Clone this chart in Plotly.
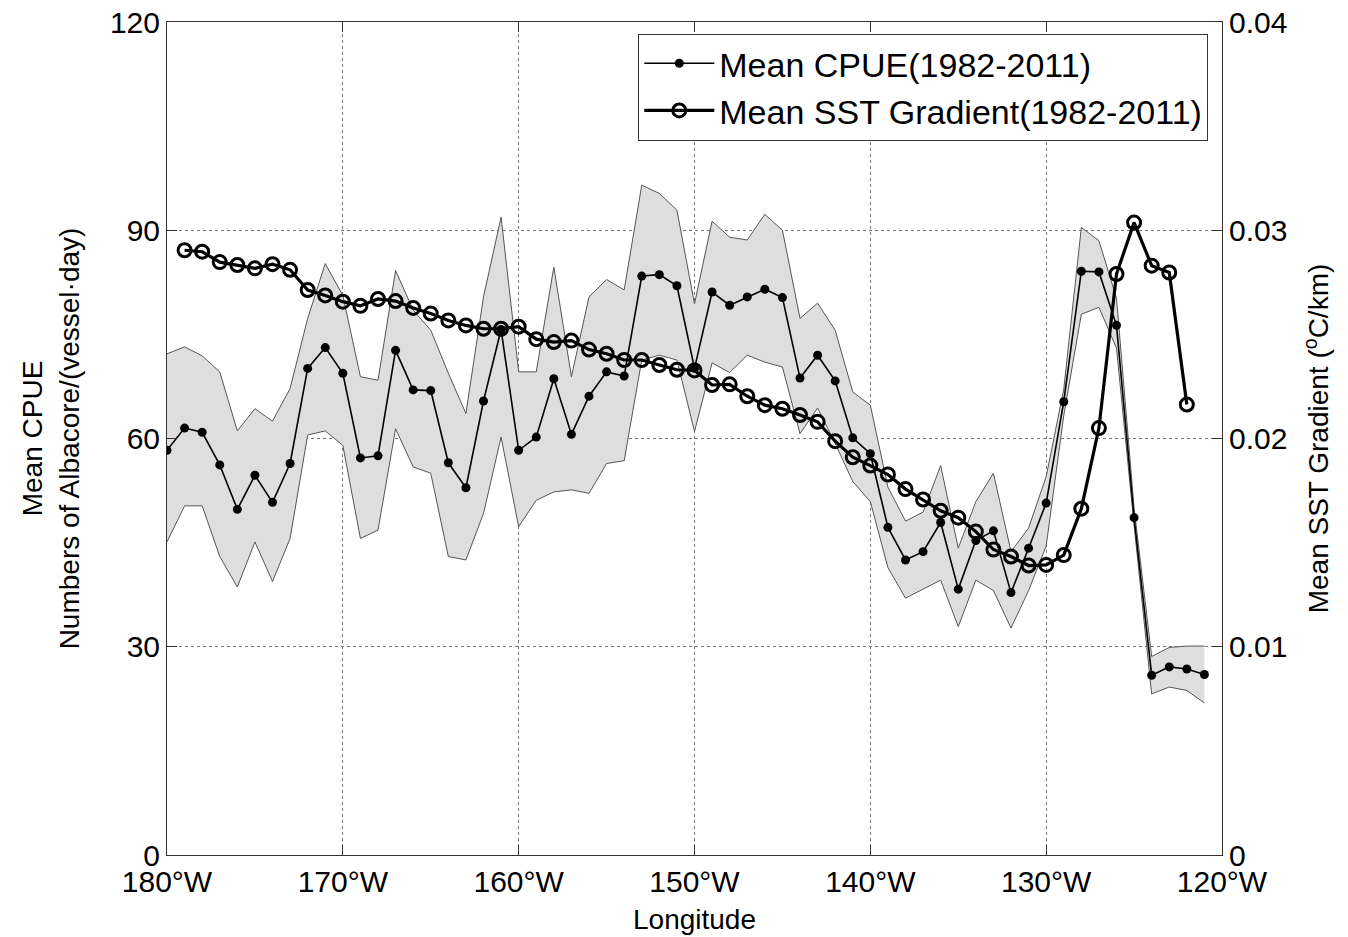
import plotly.graph_objects as go

# ---------------- data ----------------
lon_cpue = list(range(-180, -120))  # -180 ... -121
cpue = [58.3, 61.5, 60.9, 56.2, 49.8, 54.7, 50.8, 56.4, 70.1, 73.1,
        69.4, 57.2, 57.5, 72.7, 67.0, 66.9, 56.5, 52.9, 65.4, 75.7,
        58.3, 60.2, 68.6, 60.6, 66.1, 69.6, 69.0, 83.4, 83.6, 82.0,
        70.1, 81.1, 79.2, 80.4, 81.5, 80.3, 68.7, 72.0, 68.3, 60.1,
        57.8, 47.2, 42.5, 43.7, 47.9, 38.3, 45.3, 46.7, 37.8, 44.2,
        50.7, 65.3, 84.1, 84.0, 76.3, 48.6, 25.9, 27.1, 26.8, 26.0]
cpue_upper = [72.2, 73.2, 71.9, 69.6, 61.1, 64.3, 62.5, 67.2, 77.3, 85.2,
              80.6, 68.9, 68.4, 84.2, 78.5, 75.6, 69.4, 63.6, 80.4, 91.9,
              69.6, 69.6, 84.7, 68.9, 80.4, 82.9, 81.4, 96.5, 95.3, 92.9,
              79.4, 91.3, 89.0, 88.6, 92.3, 90.0, 77.3, 79.5, 75.6, 66.7,
              64.8, 53.0, 48.1, 49.4, 56.1, 44.2, 50.9, 55.0, 43.7, 47.1,
              54.5, 67.1, 90.4, 88.5, 80.2, 50.0, 28.6, 29.9, 30.1, 30.1]
cpue_lower = [45.1, 50.3, 50.3, 43.0, 38.6, 45.1, 39.4, 45.6, 60.5, 61.1,
              59.0, 45.6, 46.8, 61.4, 55.9, 55.0, 43.0, 42.5, 49.2, 60.2,
              47.3, 51.1, 52.3, 52.6, 52.1, 56.4, 56.8, 71.3, 72.0, 71.3,
              61.0, 70.9, 69.5, 72.0, 71.0, 70.3, 60.7, 64.4, 59.3, 53.8,
              50.9, 41.4, 37.0, 38.3, 39.6, 32.9, 39.6, 38.1, 32.7, 38.1,
              44.5, 63.3, 77.9, 78.9, 73.0, 47.5, 23.2, 24.2, 23.7, 21.9]

lon_sst = list(range(-179, -121))  # -179 ... -122
sst = [0.02904, 0.02897, 0.02847, 0.02833, 0.02817, 0.02837, 0.02810, 0.02713, 0.02687, 0.02657,
       0.02637, 0.02670, 0.02660, 0.02627, 0.02600, 0.02567, 0.02543, 0.02527, 0.02527, 0.02537,
       0.02477, 0.02463, 0.02470, 0.02427, 0.02407, 0.02377, 0.02377, 0.02353, 0.02330, 0.02327,
       0.02257, 0.02260, 0.02203, 0.02160, 0.02143, 0.02113, 0.02080, 0.01987, 0.01910, 0.01870,
       0.01827, 0.01757, 0.01707, 0.01653, 0.01620, 0.01553, 0.01467, 0.01433, 0.01390, 0.01393,
       0.01440, 0.01663, 0.02050, 0.02790, 0.03037, 0.02830, 0.02797, 0.02163]

x_tickvals = [-180, -170, -160, -150, -140, -130, -120]
x_ticktext = ["180°W", "170°W", "160°W", "150°W", "140°W", "130°W", "120°W"]
y_tickvals = [0, 30, 60, 90, 120]
y2_tickvals = [0, 0.01, 0.02, 0.03, 0.04]
y2_ticktext = ["0", "0.01", "0.02", "0.03", "0.04"]

FONT = "Liberation Sans, Arial, sans-serif"

fig = go.Figure()

# band
fig.add_trace(go.Scatter(x=lon_cpue, y=cpue_lower, mode="lines",
                         line=dict(color="#555555", width=1),
                         showlegend=False, hoverinfo="skip"))
fig.add_trace(go.Scatter(x=lon_cpue, y=cpue_upper, mode="lines",
                         line=dict(color="#555555", width=1),
                         fill="tonexty", fillcolor="rgb(222,222,222)",
                         showlegend=False, hoverinfo="skip"))

# CPUE
fig.add_trace(go.Scatter(x=lon_cpue, y=cpue, mode="lines+markers",
                         name="Mean CPUE(1982-2011)",
                         line=dict(color="black", width=1.6),
                         marker=dict(symbol="circle", size=9, color="black")))

# SST gradient
fig.add_trace(go.Scatter(x=lon_sst, y=sst, mode="lines+markers", yaxis="y2",
                         name="Mean SST Gradient(1982-2011)",
                         line=dict(color="black", width=3.2),
                         marker=dict(symbol="circle-open", size=13,
                                     color="black", line=dict(width=3, color="black"))))

fig.update_layout(
    width=1348, height=937,
    margin=dict(l=167, r=126, t=22, b=82, autoexpand=False),
    paper_bgcolor="white", plot_bgcolor="white",
    font=dict(family=FONT, color="black", size=28),
    xaxis=dict(range=[-180, -120], tickvals=x_tickvals, ticktext=x_ticktext,
               ticks="inside", ticklen=10, tickcolor="#333", automargin=False,
               ticklabeloverflow="allow",
               showline=True, linecolor="#333", linewidth=1, mirror="ticks",
               showgrid=True, gridcolor="#777", griddash="dot", gridwidth=1,
               zeroline=False, tickfont=dict(size=30),
               title=dict(text="Longitude", font=dict(size=28), standoff=12)),
    yaxis=dict(range=[0, 120], tickvals=y_tickvals, automargin=False,
               ticklabeloverflow="allow",
               ticks="inside", ticklen=10, tickcolor="#333",
               showline=True, linecolor="#333", linewidth=1, mirror="ticks",
               showgrid=True, gridcolor="#777", griddash="dot", gridwidth=1,
               zeroline=False, tickfont=dict(size=30),
               title=dict(text="Mean CPUE<br>Numbers of Albacore/(vessel·day)",
                          font=dict(size=28), standoff=22)),
    yaxis2=dict(range=[0, 0.04], tickvals=y2_tickvals, ticktext=y2_ticktext,
                overlaying="y", side="right", automargin=False,
                ticklabeloverflow="allow",
                ticks="inside", ticklen=10, tickcolor="#333",
                showline=True, linecolor="#333", linewidth=1,
                showgrid=False, zeroline=False, tickfont=dict(size=30),
                title=dict(text="Mean SST Gradient (<sup>o</sup>C/km)",
                           font=dict(size=28), standoff=22)),
    legend=dict(x=0.987, y=0.986, xanchor="right", yanchor="top",
                traceorder="normal",
                bgcolor="white", bordercolor="#333", borderwidth=1,
                font=dict(size=34), tracegroupgap=0, itemwidth=70),
    showlegend=True,
)

fig.write_html("out.html", config={"displayModeBar": False},
               post_script="document.body.style.margin='0px';")
